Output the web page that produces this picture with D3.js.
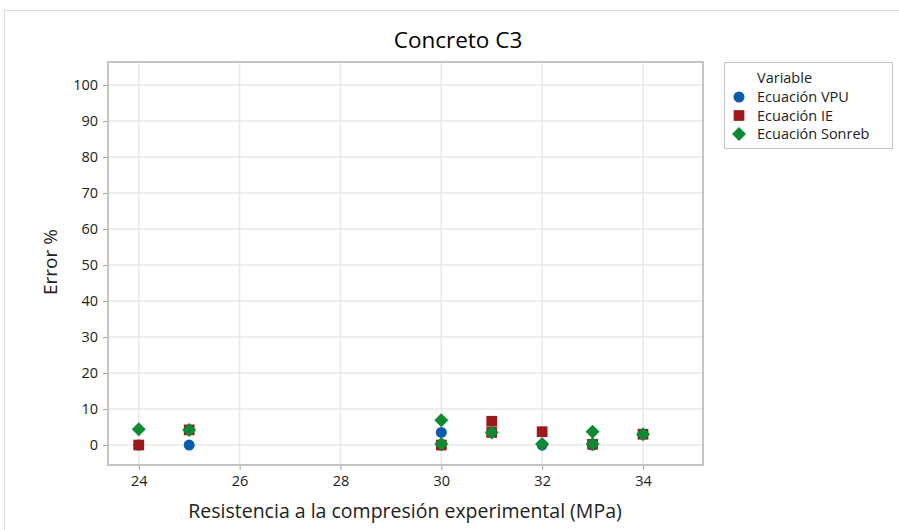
<!DOCTYPE html>
<html><head><meta charset="utf-8">
<script src="https://cdn.jsdelivr.net/npm/d3@7"></script>
<style>body{margin:0;background:#fff;} svg{display:block;font-family:"Open Sans","Noto Sans",sans-serif;}</style>
</head><body>
<svg id="c" width="899" height="530"></svg>
<script>
const title = "Concreto C3";
const xLabel = "Resistencia a la compresión experimental (MPa)";
const yLabel = "Error %";
const legendTitle = "Variable";
const seriesNames = ["Ecuación VPU", "Ecuación IE", "Ecuación Sonreb"];
const xTicks = [24, 26, 28, 30, 32, 34];
const yTicks = [0, 10, 20, 30, 40, 50, 60, 70, 80, 90, 100];
const vpuX = [24, 25, 30, 30, 31, 32, 33, 34];
const vpuY = [0, 0, 3.5, 0, 3.5, 0, 0, 3.0];
const ieX = [24, 25, 30, 31, 31, 32, 33, 34];
const ieY = [0, 4.2, 0, 6.6, 3.5, 3.7, 0.2, 3.0];
const sonX = [24, 25, 30, 30, 31, 32, 33, 33, 34];
const sonY = [4.4, 4.2, 6.9, 0.3, 3.5, 0.3, 3.7, 0.3, 3.0];

const colors = ["#0b5cad", "#9c1a1c", "#0e8a33"];
const symbols = [d3.symbolCircle, d3.symbolSquare, d3.symbolSquare];
const sizes = [95, 115, 98];
const rot = [0, 0, 45];

const svg = d3.select("#c");
// outer frame
svg.append("rect").attr("x", 4.5).attr("y", 10.5).attr("width", 900).attr("height", 530)
  .attr("fill", "none").attr("stroke", "#dcdcdc").attr("stroke-width", 1);

const L = 108, R = 703, T = 62, B = 465;
const x = d3.scaleLinear().domain([23.39, 35.19]).range([L, R]);
const y = d3.scaleLinear().domain([-5.55, 106.4]).range([B, T]);

// gridlines
svg.append("g").selectAll("line").data(xTicks).join("line")
  .attr("x1", d => x(d)).attr("x2", d => x(d)).attr("y1", T).attr("y2", B)
  .attr("stroke", "#e8e8e8").attr("stroke-width", 1.5);
svg.append("g").selectAll("line").data(yTicks).join("line")
  .attr("y1", d => y(d)).attr("y2", d => y(d)).attr("x1", L).attr("x2", R)
  .attr("stroke", "#e8e8e8").attr("stroke-width", 1.5);

// axes
const xAxis = svg.append("g").attr("transform", `translate(0,${B})`)
  .call(d3.axisBottom(x).tickValues(xTicks).tickSize(5).tickPadding(6));
const yAxis = svg.append("g").attr("transform", `translate(${L},0)`)
  .call(d3.axisLeft(y).tickValues(yTicks).tickSize(5).tickPadding(5));
[xAxis, yAxis].forEach(a => {
  a.select(".domain").remove();
  a.selectAll("line").attr("stroke", "#a0a0a0");
  a.selectAll("text").attr("fill", "#222").style("font-size", "14.5px").style("font-family", "\"Open Sans\",sans-serif");
});

// plot frame
svg.append("rect").attr("x", L).attr("y", T).attr("width", R - L).attr("height", B - T)
  .attr("fill", "none").attr("stroke", "#c4c4c4").attr("stroke-width", 2);

// points
const series = [
  vpuX.map((v, i) => ({x: v, y: vpuY[i]})),
  ieX.map((v, i) => ({x: v, y: ieY[i]})),
  sonX.map((v, i) => ({x: v, y: sonY[i]}))
];
series.forEach((s, k) => {
  svg.append("g").selectAll("path").data(s).join("path")
    .attr("transform", d => `translate(${x(d.x)},${y(d.y)}) rotate(${rot[k]})`)
    .attr("d", d3.symbol().type(symbols[k]).size(sizes[k]))
    .attr("fill", colors[k]);
});

// titles
svg.append("text").attr("x", 458).attr("y", 48).attr("text-anchor", "middle")
  .style("font-size", "22.5px").style("font-weight", "500").attr("fill", "#000").text(title);
svg.append("text").attr("x", 405).attr("y", 518).attr("text-anchor", "middle")
  .style("font-size", "19.5px").attr("fill", "#222").text(xLabel);
svg.append("text").attr("transform", "translate(57,262) rotate(-90)").attr("text-anchor", "middle")
  .style("font-size", "19px").attr("fill", "#222").text(yLabel);

// legend
const lg = svg.append("g");
lg.append("rect").attr("x", 724.5).attr("y", 62.5).attr("width", 168).attr("height", 86)
  .attr("fill", "#fff").attr("stroke", "#c4c4c4").attr("stroke-width", 1);
lg.append("text").attr("x", 757).attr("y", 83).style("font-size", "14.5px").attr("fill", "#222").text(legendTitle);
seriesNames.forEach((n, k) => {
  const yy = 97 + k * 18.5;
  lg.append("path").attr("transform", `translate(739,${yy}) rotate(${rot[k]})`)
    .attr("d", d3.symbol().type(symbols[k]).size(sizes[k])).attr("fill", colors[k]);
  lg.append("text").attr("x", 757).attr("y", yy + 5).style("font-size", "14.5px").attr("fill", "#222").text(n);
});
</script>
</body></html>
